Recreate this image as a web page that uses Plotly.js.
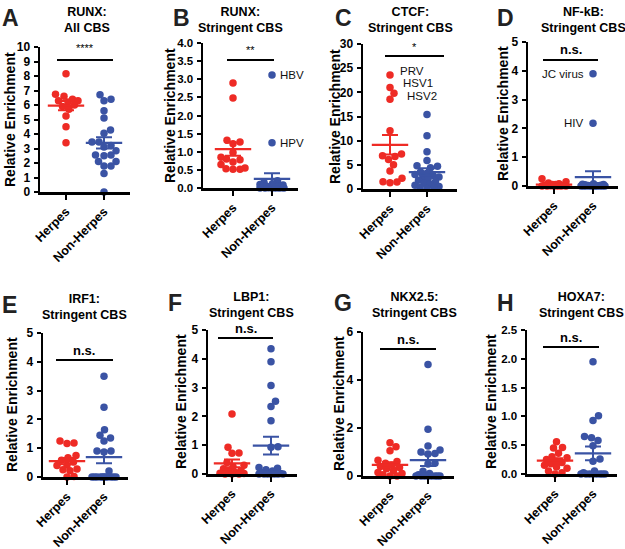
<!DOCTYPE html>
<html><head><meta charset="utf-8">
<script src="https://cdn.plot.ly/plotly-3.0.1.min.js"></script>
<style>html,body{margin:0;padding:0;background:#fff}#chart{width:625px;height:549px}</style>
</head><body><div id="chart"></div>
<script>
const categories = ['Herpes', 'Non-Herpes'];
const panelLetters = ['A','B','C','D','E','F','G','H'];
const panelTitles = ['RUNX:<br>All CBS','RUNX:<br>Stringent CBS','CTCF:<br>Stringent CBS','NF-kB:<br>Stringent CBS',
                     'IRF1:<br>Stringent CBS','LBP1:<br>Stringent CBS','NKX2.5:<br>Stringent CBS','HOXA7:<br>Stringent CBS'];
const significance = ['****','**','*','n.s.','n.s.','n.s.','n.s.','n.s.'];
const yTitle = 'Relative Enrichment';

// A: RUNX all CBS
const runxAllHerpes = [8.15,6.75,6.6,6.4,6.3,6.3,6.2,6.0,5.9,5.7,5.25,4.5,3.4];
const runxAllNonHerpes = [6.7,6.4,6.3,5.6,5.1,4.27,4.05,3.45,3.45,3.1,3.2,2.85,2.55,2.5,2.55,2.1,2.1,1.8,1.8,1.27,0.0];
// B: RUNX stringent
const runxStrHerpes = [2.9,2.48,1.32,1.27,1.22,0.98,0.85,0.78,0.8,0.72,0.65,0.55,0.53,0.52,0.52];
const runxStrNonHerpes = [3.12,1.25,0.2,0.15,0.12,0.1,0.08,0.06,0.05,0.04,0.03,0.02,0.02,0.01,0.01,0,0,0,0,0,0];
// C: CTCF stringent
const ctcfHerpes = [23.6,21.0,19.8,18.55,12.07,7.24,6.9,6.7,6.1,5.0,3.7,2.2,1.45,1.3,1.5];
const ctcfNonHerpes = [15.4,11.0,7.7,5.9,4.8,4.7,4.4,3.5,3.2,3.0,2.8,2.5,2.2,2.0,1.8,1.5,1.2,1.0,0.8,0.5,0.3,0.2,0.1];
// D: NF-kB stringent
const nfkbHerpes = [0.25,0.15,0.1,0.08,0.05,0.05,0.03,0.02,0.01,0,0,0,0,0,0];
const nfkbNonHerpes = [3.9,2.18,0.08,0.06,0.05,0.04,0.03,0.02,0.02,0.01,0.01,0,0,0,0,0,0,0,0,0,0];
// E: IRF1 stringent
const irf1Herpes = [1.25,1.18,1.16,0.75,0.67,0.58,0.52,0.42,0.4,0.28,0.25,0.22,0.02,0.0];
const irf1NonHerpes = [3.5,2.42,1.64,1.45,1.35,1.25,0.9,0.9,0.87,0.21,0,0,0,0,0,0,0,0,0,0,0];
// F: LBP1 stringent
const lbp1Herpes = [2.08,0.93,0.73,0.72,0.4,0.3,0.25,0.18,0.12,0.1,0.05,0.03,0.02,0,0,0];
const lbp1NonHerpes = [4.35,3.9,3.07,2.53,2.34,1.85,0.95,0.93,0.23,0.2,0.15,0.1,0.05,0.02,0,0,0,0,0,0,0];
// G: NKX2.5 stringent
const nkxHerpes = [1.39,1.22,1.05,0.66,0.6,0.53,0.45,0.4,0.35,0.3,0.22,0.15,0.1,0.05,0,0];
const nkxNonHerpes = [4.65,1.95,1.25,1.08,0.94,0.92,1.0,0.53,0.5,0.2,0.1,0.05,0,0,0,0,0,0,0,0];
// H: HOXA7 stringent
const hoxHerpes = [0.56,0.46,0.45,0.36,0.3,0.28,0.25,0.22,0.2,0.18,0.15,0.12,0.1,0.05,0.02,0.0];
const hoxNonHerpes = [1.95,1.01,0.93,0.65,0.63,0.58,0.49,0.26,0.22,0.05,0.02,0,0,0,0,0,0,0,0];

const herpesSeries = [runxAllHerpes,runxStrHerpes,ctcfHerpes,nfkbHerpes,irf1Herpes,lbp1Herpes,nkxHerpes,hoxHerpes];
const nonHerpesSeries = [runxAllNonHerpes,runxStrNonHerpes,ctcfNonHerpes,nfkbNonHerpes,irf1NonHerpes,lbp1NonHerpes,nkxNonHerpes,hoxNonHerpes];

// labelled points: [panel index, group (0 herpes / 1 non-herpes), value, text]
const pointLabels = [
  [1,1,3.12,'HBV'],[1,1,1.25,'HPV'],
  [2,0,23.6,'PRV'],[2,0,21.0,'HSV1'],[2,0,19.8,'HSV2'],
  [3,1,3.9,'JC virus'],[3,1,2.18,'HIV']
];
// label placement (pixels): side, xshift, yshift
const labelPlace = [
  ['right',6,0],['right',6,0],
  ['right',8,4],['right',11,4],['right',15,-3],
  ['left',-7,0],['left',-7,0]
];

const yMax = [10,4,30,5,5,5,6,2.5];
const yStep = [1,0.5,5,1,1,1,2,0.5];
const yFmt = ['','.1f','','','','','','.1f'];

// ---- layout geometry (pixels) ----
const W = 625, H = 549;
const RED = '#EE2B25', BLUE = '#3A53A4';
const FONT = 'Liberation Sans, Arial, Helvetica, sans-serif';
const geo = [
  {ax:40, xe:130, tH:66, tNH:104, yt:47, yb:192, let:[10,18], tit:[87,20], yl:[10,120], sig:[57,113,60,48], sigBold:false},
  {ax:203,xe:298, tH:233,tNH:272, yt:43, yb:188, let:[181,18], tit:[240,20], yl:[170,116], sig:[227,274,60,50], sigBold:false},
  {ax:363,xe:457, tH:390,tNH:427, yt:44, yb:189, let:[343,18], tit:[410,20], yl:[335,117], sig:[385,444,56,47], sigBold:false},
  {ax:528,xe:618, tH:554,tNH:593, yt:42, yb:186, let:[505,18], tit:[583,20], yl:[503,114], sig:[543,598,60,50], sigBold:true},
  {ax:43, xe:128, tH:67, tNH:104, yt:333,yb:477, let:[9,305],  tit:[84,307], yl:[12,405], sig:[56,113,360,350], sigBold:true},
  {ax:208,xe:297, tH:232,tNH:271, yt:330,yb:474, let:[175,303], tit:[251,305], yl:[181,402], sig:[218,273,338,328], sigBold:true},
  {ax:363,xe:454, tH:390,tNH:428, yt:332,yb:476, let:[343,303], tit:[414,305], yl:[339,404], sig:[380,436,349,339], sigBold:true},
  {ax:527,xe:617, tH:555,tNH:593, yt:330,yb:474, let:[505,303], tit:[581,305], yl:[491,402], sig:[543,599,347,337], sigBold:true}
];
const px = x => x / W, py = y => 1 - y / H;

function stats(v){
  const n = v.length, m = v.reduce((a,b)=>a+b,0)/n;
  const sd = Math.sqrt(v.reduce((a,b)=>a+(b-m)*(b-m),0)/(n-1));
  return {mean:m, sem: sd/Math.sqrt(n)};
}

function swarm(vals, pxPerUnit, pxPerCat){
  const d = 7.0, maxHalf = 12, step = 0.5;
  const idx = vals.map((v,i)=>i).sort((a,b)=>vals[a]-vals[b]);
  const placed = [], off = new Array(vals.length).fill(0);
  for (const i of idx){
    const y = vals[i]*pxPerUnit;
    let best = 0, bestScore = -1;
    for (let k=0; k<=2*maxHalf/step; k++){
      const x = (k%2===1 ? 1 : -1) * Math.ceil(k/2) * step;
      let minD = Infinity;
      for (const p of placed){ const dd = Math.hypot(x-p.x, y-p.y); if (dd<minD) minD = dd; }
      if (minD >= d){ best = x; bestScore = Infinity; break; }
      if (minD > bestScore + 0.01){ bestScore = minD; best = x; }
    }
    placed.push({x:best, y}); off[i] = best/pxPerCat;
  }
  return off;
}

const data = [], annotations = [], shapes = [];
const layout = {
  width: W, height: H, margin:{l:0,r:0,t:0,b:0}, showlegend:false,
  paper_bgcolor:'#fff', plot_bgcolor:'rgba(0,0,0,0)',
  font:{family:FONT, color:'#000'}, annotations, shapes
};

geo.forEach((g, p) => {
  const k = p+1, xa = 'x'+(k===1?'':k), ya = 'y'+(k===1?'':k);
  const pxCat = g.tNH - g.tH;
  const xr = [-(g.tH-g.ax)/pxCat, 1 + (g.xe-g.tNH)/pxCat];
  const pxUnit = (g.yb-g.yt)/yMax[p];
  layout['xaxis'+(k===1?'':k)] = {
    domain:[px(g.ax), px(g.xe)], range:xr, anchor:ya, type:'linear',
    tickvals:[0,1], ticktext:categories, tickangle:-45,
    showline:true, linewidth:2.5, linecolor:'#000', ticks:'outside', ticklen:5, tickwidth:2, tickcolor:'#000',
    showgrid:false, zeroline:false, fixedrange:true,
    tickfont:{family:FONT, size:12.5, weight:'bold', color:'#000'}
  };
  layout['yaxis'+(k===1?'':k)] = {
    domain:[py(g.yb), py(g.yt)], range:[0, yMax[p]], anchor:xa,
    tickmode:'linear', tick0:0, dtick:yStep[p], tickformat:yFmt[p],
    showline:true, linewidth:2.5, linecolor:'#000', ticks:'outside', ticklen:4, tickwidth:2, tickcolor:'#000',
    showgrid:false, zeroline:false, fixedrange:true, ticklabelstandoff:1,
    tickfont:{family:FONT, size:yFmt[p] ? 11.5 : 12, weight:'bold', color:'#000'}
  };
  [[herpesSeries[p], RED, 0],[nonHerpesSeries[p], BLUE, 1]].forEach(([vals, col, cx]) => {
    const off = swarm(vals, pxUnit, pxCat);
    data.push({type:'scatter', mode:'markers', xaxis:xa, yaxis:ya, cliponaxis:false, hoverinfo:'skip',
      x: vals.map((v,i)=>cx+off[i]), y: vals,
      marker:{color:col, size:7.5, line:{width:0}}});
    const s = stats(vals);
    data.push({type:'scatter', mode:'markers', xaxis:xa, yaxis:ya, cliponaxis:false, hoverinfo:'skip',
      x:[cx], y:[s.mean],
      marker:{symbol:'line-ew', size:26, color:col, line:{color:col, width:2.2}},
      error_y:{type:'data', array:[s.sem], visible:true, color:col, thickness:2, width:8}});
  });
  annotations.push({xref:'paper', yref:'paper', x:px(g.let[0]), y:py(g.let[1]), xanchor:'center', yanchor:'middle',
    text:panelLetters[p], showarrow:false, font:{family:FONT, size:23, weight:'bold', color:'#222'}});
  annotations.push({xref:'paper', yref:'paper', x:px(g.tit[0]), y:py(g.tit[1]), xanchor:'center', yanchor:'middle',
    text:panelTitles[p], showarrow:false, font:{family:FONT, size:12.5, weight:'bold', color:'#000'}});
  annotations.push({xref:'paper', yref:'paper', x:px(g.yl[0]), y:py(g.yl[1]), xanchor:'center', yanchor:'middle',
    text:yTitle, textangle:-90, showarrow:false, font:{family:FONT, size:14, weight:'bold', color:'#000'}});
  shapes.push({type:'line', xref:'paper', yref:'paper', x0:px(g.sig[0]), x1:px(g.sig[1]), y0:py(g.sig[2]), y1:py(g.sig[2]),
    line:{color:'#000', width:2}});
  annotations.push({xref:'paper', yref:'paper', x:px((g.sig[0]+g.sig[1])/2), y:py(g.sig[3]), xanchor:'center', yanchor:'middle',
    text:significance[p], showarrow:false,
    font:{family:FONT, size:g.sigBold?13:11, weight:g.sigBold?'bold':'normal', color:'#000'}});
});

pointLabels.forEach(([p, grp, val, txt], i) => {
  const k = p+1, [side, xs, ys] = labelPlace[i];
  annotations.push({xref:'x'+k, yref:'y'+k, x:grp, y:val, text:txt, showarrow:false,
    xanchor: side==='right' ? 'left' : 'right', yanchor:'middle', xshift:xs, yshift:ys,
    font:{family:FONT, size:11.5, color:'#111'}});
});

Plotly.newPlot('chart', data, layout, {staticPlot:true});
</script></body></html>
